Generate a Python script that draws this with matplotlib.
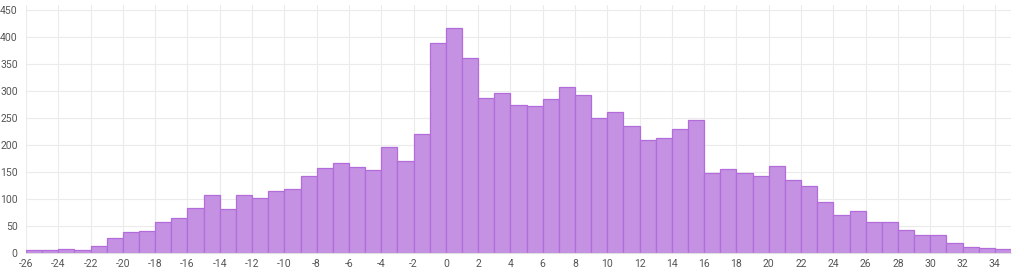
import matplotlib
matplotlib.use("Agg")
import matplotlib.pyplot as plt
import numpy as np

bin_left = list(range(-26, 35))
counts = [5, 5, 8, 5, 13, 28, 39, 41, 58, 65, 84, 108, 81, 107, 102, 115, 118, 142, 158, 167,
          159, 153, 197, 171, 221, 388, 416, 361, 287, 297, 274, 272, 285, 308, 292, 250, 261,
          235, 209, 213, 229, 246, 148, 155, 148, 142, 161, 136, 124, 95, 70, 77, 57, 57, 43,
          34, 34, 18, 11, 10, 8]
x_ticks = list(range(-26, 35, 2))
y_ticks = list(range(0, 451, 50))

plt.rcParams['font.family'] = ['Roboto', 'DejaVu Sans']
fig = plt.figure(figsize=(10.24, 2.72), dpi=100)
ax = fig.add_axes([26/1024, 19/272, (1011-26)/1024, (253-5)/272])

ax.bar(bin_left, counts, width=1.0, align='edge', color='#c592e3',
       edgecolor='#b26cdb', linewidth=0.9, zorder=2)

ax.set_xlim(-26, 35)
ax.set_ylim(0, 459)
ax.set_xticks(x_ticks)
ax.set_yticks(y_ticks)
ax.set_xticklabels([str(t) for t in x_ticks])
ax.grid(True, color='#ebebeb', linewidth=0.8, zorder=0)
ax.set_axisbelow(True)
for s in ['top', 'right', 'left']:
    ax.spines[s].set_visible(False)
ax.spines['bottom'].set_color('#e0e0e0')
ax.tick_params(axis='both', length=0, labelsize=7.5, labelcolor='#555555')
ax.tick_params(axis='x', pad=4)
ax.tick_params(axis='y', pad=6)

fig.savefig('out.png', dpi=100)
